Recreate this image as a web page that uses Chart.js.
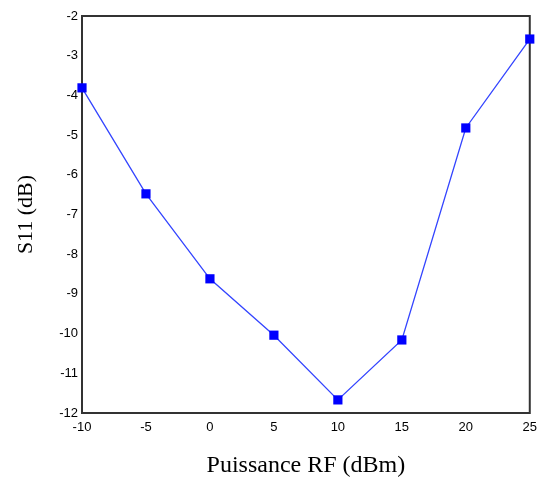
<!DOCTYPE html>
<html lang="fr">
<head>
    <meta charset="UTF-8">
    <title>S11 vs Puissance RF</title>
    <script src="https://cdn.jsdelivr.net/npm/chart.js"></script>
    <style>
        body { margin: 0; background: #ffffff; }
        canvas { display: block; }
    </style>
</head>
<body>
    <canvas id="s11Chart" width="544" height="481"></canvas>

    <script>
        // Données
        const puissanceRF = [-10, -5, 0, 5, 10, 15, 20, 25];
        const s11 = [-3.81, -6.48, -8.62, -10.04, -11.67, -10.16, -4.82, -2.58];

        const xTicks = [-10, -5, 0, 5, 10, 15, 20, 25];
        const yTicks = [-12, -11, -10, -9, -8, -7, -6, -5, -4, -3, -2];

        // cadre noir autour de la zone de tracé
        const frame = {
            id: 'frame',
            beforeDatasetsDraw(chart) {
                const { ctx, chartArea: a } = chart;
                ctx.save();
                ctx.strokeStyle = '#333333';
                ctx.lineWidth = 2;
                ctx.strokeRect(a.left, a.top, a.right - a.left, a.bottom - a.top);
                ctx.restore();
            }
        };

        const tickFont = { family: 'Arial, "Liberation Sans", sans-serif', size: 13 };
        const serif = '"Times New Roman", "Liberation Serif", serif';

        new Chart(document.getElementById('s11Chart'), {
            type: 'line',
            data: {
                datasets: [{
                    data: puissanceRF.map((x, i) => ({ x: x, y: s11[i] })),
                    borderColor: '#3344ff',
                    borderWidth: 1.3,
                    backgroundColor: '#0000ff',
                    pointStyle: 'rect',
                    pointRadius: 6.5,
                    pointBorderWidth: 0,
                    pointBackgroundColor: '#0000ff',
                    tension: 0,
                    clip: false
                }]
            },
            options: {
                responsive: false,
                animation: false,
                layout: { padding: { left: 0, top: 16, right: 13, bottom: 0 } },
                plugins: {
                    legend: { display: false },
                    tooltip: { enabled: false }
                },
                scales: {
                    x: {
                        type: 'linear',
                        min: -10,
                        max: 25,
                        afterFit: (scale) => { scale.height = 68; },
                        afterBuildTicks: (scale) => { scale.ticks = xTicks.map(v => ({ value: v })); },
                        grid: { display: false, drawTicks: false },
                        border: { display: false },
                        ticks: { color: '#000000', font: tickFont, padding: 7, maxRotation: 0 },
                        title: {
                            display: true,
                            text: 'Puissance RF (dBm)',
                            color: '#000000',
                            font: { family: serif, size: 24 },
                            padding: { top: 0, bottom: 1 }
                        }
                    },
                    y: {
                        min: -12,
                        max: -2,
                        afterFit: (scale) => { scale.width = 82; },
                        afterBuildTicks: (scale) => { scale.ticks = yTicks.map(v => ({ value: v })); },
                        grid: { display: false, drawTicks: false },
                        border: { display: false },
                        ticks: { color: '#000000', font: tickFont, padding: 4 },
                        title: {
                            display: true,
                            text: 'S11 (dB)',
                            color: '#000000',
                            font: { family: serif, size: 22 },
                            padding: { top: 13, bottom: 0 }
                        }
                    }
                }
            },
            plugins: [frame]
        });
    </script>
</body>
</html>
